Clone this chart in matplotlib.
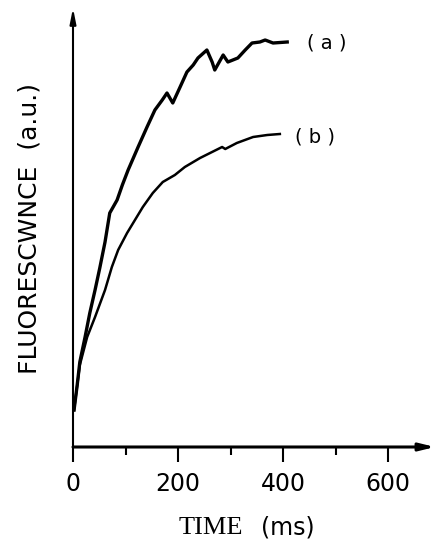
import matplotlib
matplotlib.use("Agg")
import matplotlib.pyplot as plt
from matplotlib.ticker import FixedLocator

# curva (a) - tiempo (ms) / fluorescencia (u.a.)
t_a = [2, 8, 13, 23, 32, 42, 51, 61, 70, 84, 94, 105, 124, 141, 156, 170, 179, 190, 204,
       217, 229, 238, 255, 265, 270, 286, 295, 314, 328, 341, 356, 366, 381, 408]
f_a = [37, 62, 85, 110, 134, 157, 179, 205, 234, 247, 262, 277, 300, 320, 337, 347, 354, 344, 360,
       375, 382, 389, 397, 385, 377, 392, 385, 389, 397, 404, 405, 407, 404, 405]

# curva (b)
t_b = [2, 13, 27, 42, 61, 74, 86, 103, 133, 152, 171, 194, 213, 242, 284, 290,
       312, 343, 370, 394]
f_b = [37, 82, 110, 130, 157, 180, 197, 214, 240, 254, 265, 272, 280, 289, 300, 298,
       304, 310, 312, 313]

major_ticks = [0, 200, 400, 600]
minor_ticks = [100, 300, 500]
tick_labels = ["0", "200", "400", "600"]

W, H = 435, 539
fig = plt.figure(figsize=(W / 100, H / 100), dpi=100)
ax = fig.add_axes([73 / W, 92 / H, (W - 73) / W, (531 - 92) / H])
ax.set_xlim(0, 689.5)
ax.set_ylim(0, 439)

ax.plot(t_a, f_a, color="black", lw=2.4, solid_joinstyle="round")
ax.plot(t_b, f_b, color="black", lw=1.8, solid_joinstyle="round")

ax.text(484, 404, "( a )", fontsize=14, ha="center", va="center")
ax.text(461, 310, "( b )", fontsize=14, ha="center", va="center")

for s in ax.spines.values():
    s.set_visible(False)

# ejes con flecha
ax.annotate("", xy=(1, 0), xytext=(0, 0), xycoords="axes fraction",
            arrowprops=dict(arrowstyle="-|>,head_length=0.9,head_width=0.22",
                            lw=2.2, color="black", shrinkA=0, shrinkB=0),
            annotation_clip=False)
ax.annotate("", xy=(0, 1), xytext=(0, 0), xycoords="axes fraction",
            arrowprops=dict(arrowstyle="-|>,head_length=0.9,head_width=0.18",
                            lw=1.5, color="black", shrinkA=0, shrinkB=0),
            annotation_clip=False)

ax.xaxis.set_major_locator(FixedLocator(major_ticks))
ax.xaxis.set_minor_locator(FixedLocator(minor_ticks))
ax.set_xticklabels(tick_labels)
ax.tick_params(axis="x", which="major", direction="out", length=11, width=1.5,
               labelsize=17, pad=7)
ax.tick_params(axis="x", which="minor", direction="out", length=6, width=1.5)
ax.set_yticks([])

fig.text(30 / W, 1 - 228 / H, "FLUORESCWNCE  (a.u.)", rotation=90,
         fontsize=18, ha="center", va="center")
fig.text(211 / W, (H - 534) / H, "TIME", family="Liberation Serif",
         fontsize=19, ha="center", va="baseline")
fig.text(288 / W, (H - 534) / H, "(ms)", fontsize=17, ha="center", va="baseline")

fig.savefig("out.png", dpi=100)
